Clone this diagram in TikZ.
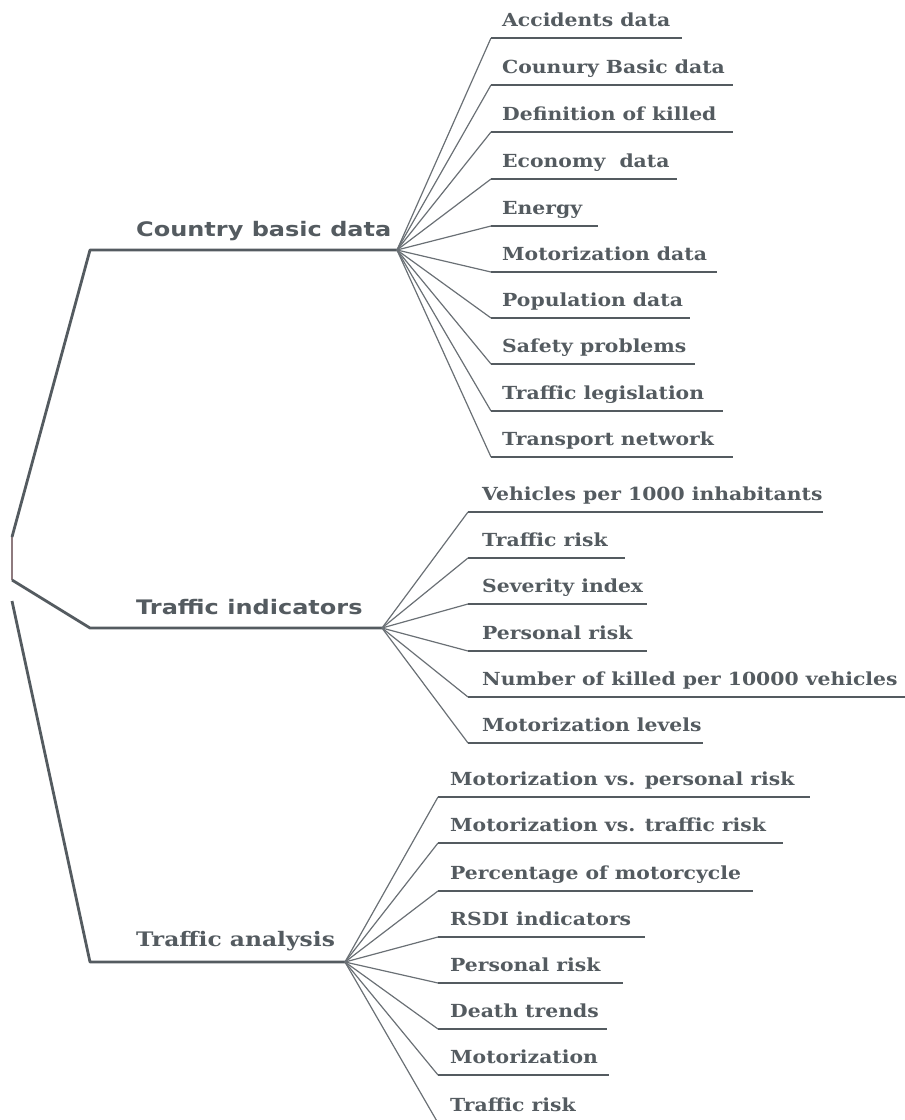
\documentclass[tikz,border=0pt]{standalone}
\usepackage{fontspec}
\newfontfamily\chfont{DejaVu Serif Bold}[FakeStretch=1.13]
\newfontfamily\mainsans{DejaVu Sans Bold}[FakeStretch=1.2]
\newfontfamily\mainserif{DejaVu Serif Bold}[FakeStretch=1.17]
\definecolor{ink}{HTML}{545B60}
\definecolor{twigc}{HTML}{6A7075}
\definecolor{rootc}{HTML}{8E7A7E}
\begin{document}
\begin{tikzpicture}[x=1pt,y=-1pt,
  branch/.style={line width=2.8pt, draw=ink, line join=round},
  rootseg/.style={line width=2.4pt, draw=rootc},
  twig/.style={line width=1.2pt, draw=twigc},
  uline/.style={line width=2pt, draw=ink},
  child/.style={anchor=base west, inner sep=0pt, text=ink, font=\chfont\fontsize{18}{20}\selectfont},
  mainsans/.style={anchor=base west, inner sep=0pt, text=ink, font=\mainsans\fontsize{20}{22}\selectfont},
  mainserif/.style={anchor=base west, inner sep=0pt, text=ink, font=\mainserif\fontsize{20}{22}\selectfont}]
\useasboundingbox (0,0) rectangle (905,1120);

% root
\coordinate (r1) at (12,537);
\coordinate (r2) at (12,580);
\coordinate (r3) at (12,601);
\draw[rootseg] (r1) -- (r2);

% main branches
\coordinate (bA) at (90,250);  \coordinate (hA) at (397,250);
\coordinate (bB) at (90,628);  \coordinate (hB) at (382,628);
\coordinate (bC) at (90,962);  \coordinate (hC) at (345,962);
\draw[branch] (r1) -- (bA) -- (hA);
\draw[branch] (r2) -- (bB) -- (hB);
\draw[branch] (r3) -- (bC) -- (hC);
\node[mainsans]  (mA) at (136,236) {Country basic data};
\node[mainsans]  (mB) at (136,614) {Traffic indicators};
\node[mainserif] (mC) at (136,946) {Traffic analysis};

% Country basic data children
\foreach \y/\xe/\t [count=\i] in {
  38/682/Accidents data,
  85/733/Counury Basic data,
  132/733/Definition of killed,
  179/677/Economy~ data,
  226/598/Energy,
  272/717/Motorization data,
  318/690/Population data,
  364/695/Safety problems,
  411/723/Traffic legislation,
  457/733/Transport network}{
  \coordinate (a\i s) at (491,\y);
  \coordinate (a\i e) at (\xe,\y);
  \draw[twig] (hA) -- (a\i s);
  \draw[uline] (a\i s) -- (a\i e);
  \node[child] (a\i) at (502,\y-12) {\t};
}

% Traffic indicators children
\foreach \y/\xe/\t [count=\i] in {
  512/823/Vehicles per 1000 inhabitants,
  558/625/Traffic risk,
  604/647/Severity index,
  651/647/Personal risk,
  697/905/Number of killed per 10000 vehicles,
  743/703/Motorization levels}{
  \coordinate (b\i s) at (468,\y);
  \coordinate (b\i e) at (\xe,\y);
  \draw[twig] (hB) -- (b\i s);
  \draw[uline] (b\i s) -- (b\i e);
  \node[child] (b\i) at (482,\y-12) {\t};
}

% Traffic analysis children
\foreach \y/\xe/\t [count=\i] in {
  797/810/Motorization vs. personal risk,
  843/783/Motorization vs. traffic risk,
  891/753/Percentage of motorcycle,
  937/645/RSDI indicators,
  983/623/Personal risk,
  1029/607/Death trends,
  1075/609/Motorization,
  1123/600/Traffic risk}{
  \coordinate (c\i s) at (438,\y);
  \coordinate (c\i e) at (\xe,\y);
  \draw[twig] (hC) -- (c\i s);
  \draw[uline] (c\i s) -- (c\i e);
  \node[child] (c\i) at (450,\y-12) {\t};
}
\end{tikzpicture}
\end{document}
